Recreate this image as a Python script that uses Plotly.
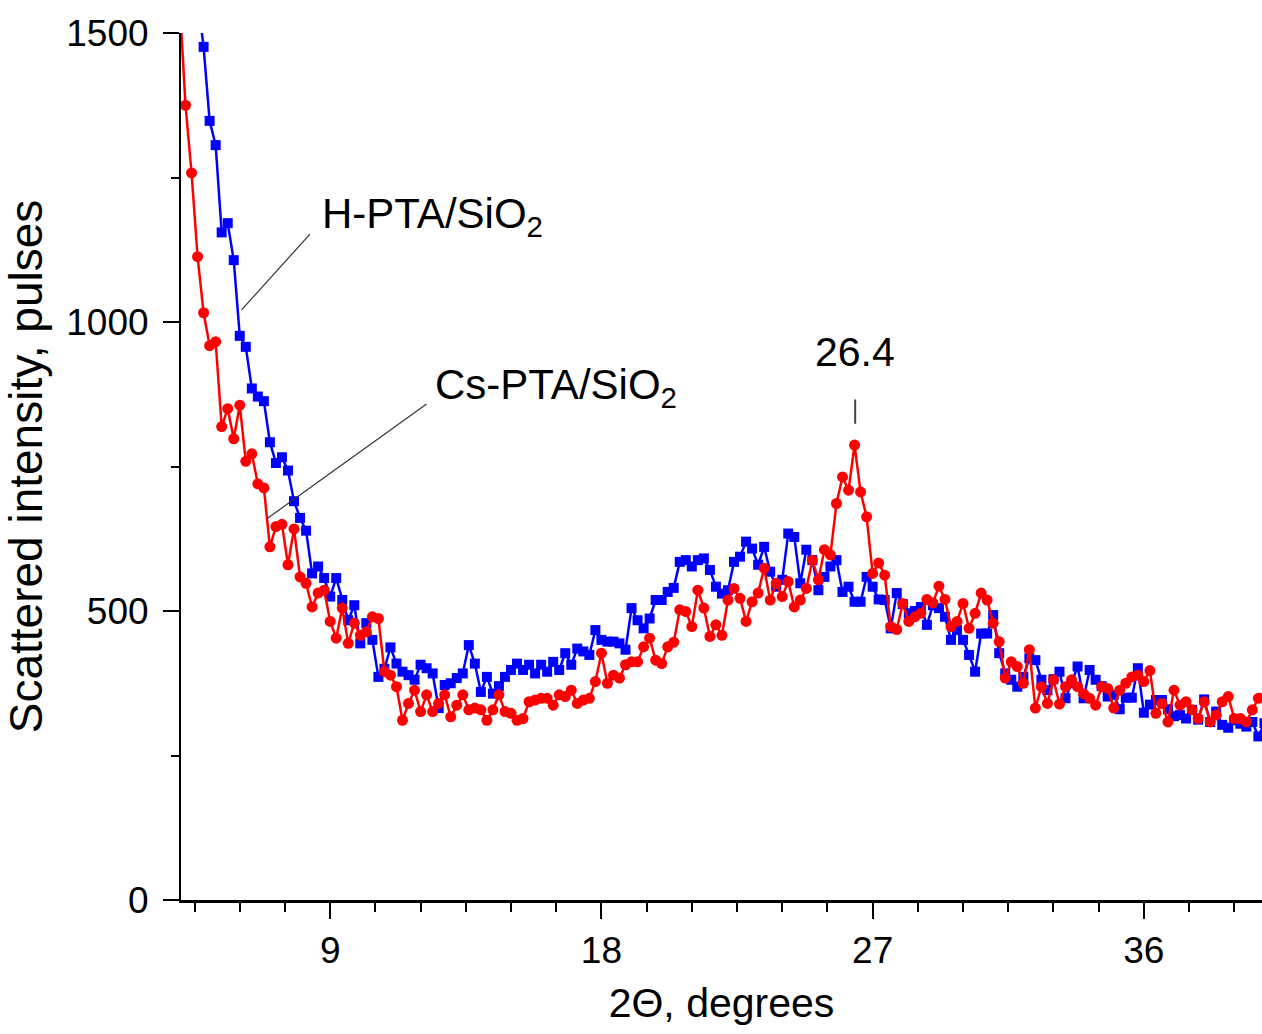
import plotly.graph_objects as go

# 2Theta grid (degrees)
two_theta = [
    4.0, 4.2, 4.4, 4.6, 4.8, 5.0, 5.2, 5.4, 5.6, 5.8,
    6.0, 6.2, 6.4, 6.6, 6.8, 7.0, 7.2, 7.4, 7.6, 7.8,
    8.0, 8.2, 8.4, 8.6, 8.8, 9.0, 9.2, 9.4, 9.6, 9.8,
    10.0, 10.2, 10.4, 10.6, 10.8, 11.0, 11.2, 11.4, 11.6, 11.8,
    12.0, 12.2, 12.4, 12.6, 12.8, 13.0, 13.2, 13.4, 13.6, 13.8,
    14.0, 14.2, 14.4, 14.6, 14.8, 15.0, 15.2, 15.4, 15.6, 15.8,
    16.0, 16.2, 16.4, 16.6, 16.8, 17.0, 17.2, 17.4, 17.6, 17.8,
    18.0, 18.2, 18.4, 18.6, 18.8, 19.0, 19.2, 19.4, 19.6, 19.8,
    20.0, 20.2, 20.4, 20.6, 20.8, 21.0, 21.2, 21.4, 21.6, 21.8,
    22.0, 22.2, 22.4, 22.6, 22.8, 23.0, 23.2, 23.4, 23.6, 23.8,
    24.0, 24.2, 24.4, 24.6, 24.8, 25.0, 25.2, 25.4, 25.6, 25.8,
    26.0, 26.2, 26.4, 26.6, 26.8, 27.0, 27.2, 27.4, 27.6, 27.8,
    28.0, 28.2, 28.4, 28.6, 28.8, 29.0, 29.2, 29.4, 29.6, 29.8,
    30.0, 30.2, 30.4, 30.6, 30.8, 31.0, 31.2, 31.4, 31.6, 31.8,
    32.0, 32.2, 32.4, 32.6, 32.8, 33.0, 33.2, 33.4, 33.6, 33.8,
    34.0, 34.2, 34.4, 34.6, 34.8, 35.0, 35.2, 35.4, 35.6, 35.8,
    36.0, 36.2, 36.4, 36.6, 36.8, 37.0, 37.2, 37.4, 37.6, 37.8,
    38.0, 38.2, 38.4, 38.6, 38.8, 39.0, 39.2, 39.4, 39.6, 39.8,
    40.0,
]

# H-PTA/SiO2 (blue squares)
h_pta = [
    2000, 1850, 1700, 1560, 1476,
    1348, 1306, 1155, 1171, 1107,
    976, 957, 885, 871, 863,
    792, 756, 766, 743, 690,
    661, 639, 565, 577, 557,
    525, 557, 519, 484, 510,
    444, 479, 450, 386, 400,
    437, 409, 395, 389, 381,
    407, 401, 392, 332, 372,
    375, 384, 392, 441, 409,
    360, 386, 357, 370, 386,
    398, 409, 398, 407, 392,
    407, 395, 412, 398, 427,
    407, 435, 430, 424, 467,
    450, 447, 447, 444, 433,
    505, 484, 470, 487, 519,
    519, 533, 540, 585, 588,
    577, 588, 591, 571, 542,
    530, 536, 585, 594, 620,
    608, 580, 611, 568, 542,
    554, 634, 628, 548, 606,
    588, 536, 559, 577, 588,
    533, 542, 516, 516, 559,
    542, 520, 519, 470, 531,
    512, 496, 500, 507, 476,
    510, 505, 490, 450, 467,
    450, 424, 395, 461, 461,
    493, 427, 392, 381, 369,
    386, 418, 415, 381, 363,
    382, 395, 349, 375, 404,
    349, 398, 381, 370, 352,
    355, 330, 350, 350, 401,
    324, 338, 346, 346, 330,
    318, 320, 314, 329, 312,
    347, 308, 326, 303, 298,
    311, 305, 300, 308, 283,
    306,
]

# Cs-PTA/SiO2 (red circles)
cs_pta = [
    1560, 1375, 1258, 1113, 1016,
    959, 966, 819, 850, 798,
    856, 759, 772, 720, 713,
    611, 646, 650, 580, 642,
    559, 548, 507, 531, 536,
    482, 453, 505, 444, 479,
    458, 464, 490, 487, 395,
    389, 369, 311, 340, 363,
    326, 355, 326, 340, 355,
    317, 337, 355, 329, 332,
    329, 311, 329, 355, 326,
    323, 311, 314, 343, 346,
    349, 349, 337, 355, 352,
    363, 340, 346, 349, 378,
    427, 375, 389, 384, 407,
    412, 412, 438, 453, 415,
    409, 438, 446, 502, 499,
    473, 536, 505, 456, 476,
    458, 519, 539, 522, 482,
    516, 531, 574, 519, 548,
    525, 551, 507, 519, 539,
    588, 554, 606, 597, 686,
    732, 709, 787, 706, 663,
    565, 583, 562, 473, 468,
    513, 482, 490, 496, 520,
    514, 543, 520, 473, 482,
    513, 470, 496, 531, 519,
    479, 447, 384, 412, 404,
    375, 433, 332, 369, 340,
    381, 339, 369, 381, 369,
    357, 349, 337, 369, 366,
    332, 363, 375, 386, 389,
    378, 397, 323, 340, 308,
    363, 337, 343, 329, 314,
    343, 308, 320, 343, 352,
    314, 314, 308, 329, 349,
    350,
]

x_ticks = [9, 18, 27, 36]
y_ticks = [0, 500, 1000, 1500]
peak_label = "26.4"
peak_pos = 26.42

FONT = "Arial, 'Liberation Sans', sans-serif"

fig = go.Figure()
fig.add_trace(go.Scatter(
    x=two_theta, y=h_pta, mode="lines+markers", name="H-PTA/SiO2",
    line=dict(color="#0000FF", width=2.5),
    marker=dict(symbol="square", size=10, color="#0000FF"),
))
fig.add_trace(go.Scatter(
    x=two_theta, y=cs_pta, mode="lines+markers", name="Cs-PTA/SiO2",
    line=dict(color="#FF0000", width=2.5),
    marker=dict(symbol="circle", size=11, color="#FF0000"),
))

# leader lines
fig.add_shape(type="line", x0=8.33, y0=1152, x1=6.06, y1=1021,
              line=dict(color="#333333", width=1.2))
fig.add_shape(type="line", x0=12.2, y0=858, x1=6.91, y1=660,
              line=dict(color="#333333", width=1.2))
fig.add_shape(type="line", x0=peak_pos, y0=866, x1=peak_pos, y1=824,
              line=dict(color="#444444", width=2))

fig.add_annotation(x=8.66, y=1182, xref="x", yref="y", showarrow=False,
                   text="H-PTA/SiO<sub>2</sub>", xanchor="left", yanchor="middle",
                   font=dict(family=FONT, size=42, color="black"))
fig.add_annotation(x=12.41, y=887, xref="x", yref="y", showarrow=False,
                   text="Cs-PTA/SiO<sub>2</sub>", xanchor="left", yanchor="middle",
                   font=dict(family=FONT, size=42, color="black"))
fig.add_annotation(x=peak_pos, y=948, xref="x", yref="y", showarrow=False,
                   text=peak_label, xanchor="center", yanchor="middle",
                   font=dict(family=FONT, size=41, color="black"))

fig.update_layout(
    width=1262, height=1034,
    margin=dict(l=181, r=0, t=33, b=134),
    plot_bgcolor="white", paper_bgcolor="white",
    showlegend=False,
    font=dict(family=FONT, color="black"),
)
fig.update_xaxes(
    range=[4.05, 39.92], tickvals=x_ticks, ticktext=[str(v) for v in x_ticks],
    showline=True, linecolor="black", linewidth=3,
    ticks="outside", ticklen=16, tickwidth=2, tickcolor="black",
    minor=dict(dtick=1.5, tick0=0, ticks="outside", ticklen=9, tickwidth=2, tickcolor="black"),
    showgrid=False, zeroline=False,
    tickfont=dict(family=FONT, size=37, color="black"),
    ticklabelstandoff=0,
    title=dict(text="2\u0398, degrees", font=dict(family=FONT, size=41, color="black"), standoff=18),
)
fig.update_yaxes(
    range=[0, 1500], tickvals=y_ticks, ticktext=[str(v) for v in y_ticks],
    showline=True, linecolor="black", linewidth=2,
    ticks="outside", ticklen=16, tickwidth=2, tickcolor="black",
    minor=dict(dtick=250, tick0=0, ticks="outside", ticklen=8, tickwidth=2, tickcolor="black"),
    showgrid=False, zeroline=False,
    tickfont=dict(family=FONT, size=37, color="black"),
    ticklabelstandoff=7,
    title=dict(text="Scattered intensity, pulses", font=dict(family=FONT, size=46, color="black"), standoff=14),
)

fig.write_html("out.html")
